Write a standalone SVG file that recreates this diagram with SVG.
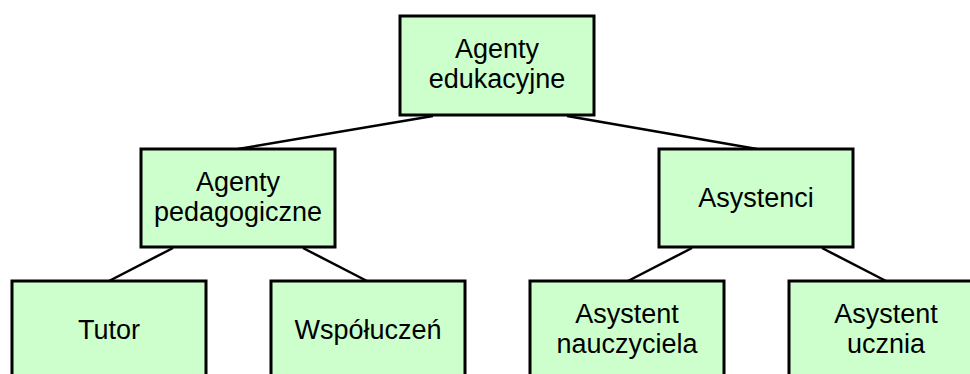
<svg xmlns="http://www.w3.org/2000/svg" width="970" height="374" viewBox="0 0 970 374">
  <style>
    .box { fill: #ccffcc; stroke: #000; stroke-width: 3; }
    .lbl { font-family: "Liberation Sans", Arial, sans-serif; font-size: 27px; fill: #000; text-anchor: middle; }
    .edge { stroke: #000; stroke-width: 2.5; fill: none; }
  </style>
  <rect width="970" height="374" fill="#fff"/>

  <g id="connectors">
    <line class="edge" x1="433" y1="116" x2="238" y2="149"/>
    <line class="edge" x1="567" y1="116" x2="757" y2="149"/>
    <line class="edge" x1="173" y1="248" x2="109" y2="281"/>
    <line class="edge" x1="303" y1="248" x2="367" y2="281"/>
    <line class="edge" x1="692" y1="248" x2="628" y2="281"/>
    <line class="edge" x1="822" y1="248" x2="886" y2="281"/>
  </g>

  <g id="agenty-edukacyjne">
    <rect class="box" x="400" y="16" width="194" height="99"/>
    <text class="lbl" x="497" y="58">Agenty</text>
    <text class="lbl" x="497" y="88">edukacyjne</text>
  </g>

  <g id="agenty-pedagogiczne">
    <rect class="box" x="141" y="149" width="194" height="98"/>
    <text class="lbl" x="238" y="191">Agenty</text>
    <text class="lbl" x="238" y="221">pedagogiczne</text>
  </g>

  <g id="asystenci">
    <rect class="box" x="659" y="149" width="194" height="98"/>
    <text class="lbl" x="756" y="207">Asystenci</text>
  </g>

  <g id="tutor">
    <rect class="box" x="12" y="281" width="194" height="98"/>
    <text class="lbl" x="109" y="339">Tutor</text>
  </g>

  <g id="wspoluczen">
    <rect class="box" x="271" y="281" width="194" height="98"/>
    <text class="lbl" x="368" y="339">Współuczeń</text>
  </g>

  <g id="asystent-nauczyciela">
    <rect class="box" x="530" y="281" width="194" height="98"/>
    <text class="lbl" x="627" y="323">Asystent</text>
    <text class="lbl" x="627" y="353">nauczyciela</text>
  </g>

  <g id="asystent-ucznia">
    <rect class="box" x="789" y="281" width="194" height="98"/>
    <text class="lbl" x="886" y="323">Asystent</text>
    <text class="lbl" x="886" y="353">ucznia</text>
  </g>
</svg>
